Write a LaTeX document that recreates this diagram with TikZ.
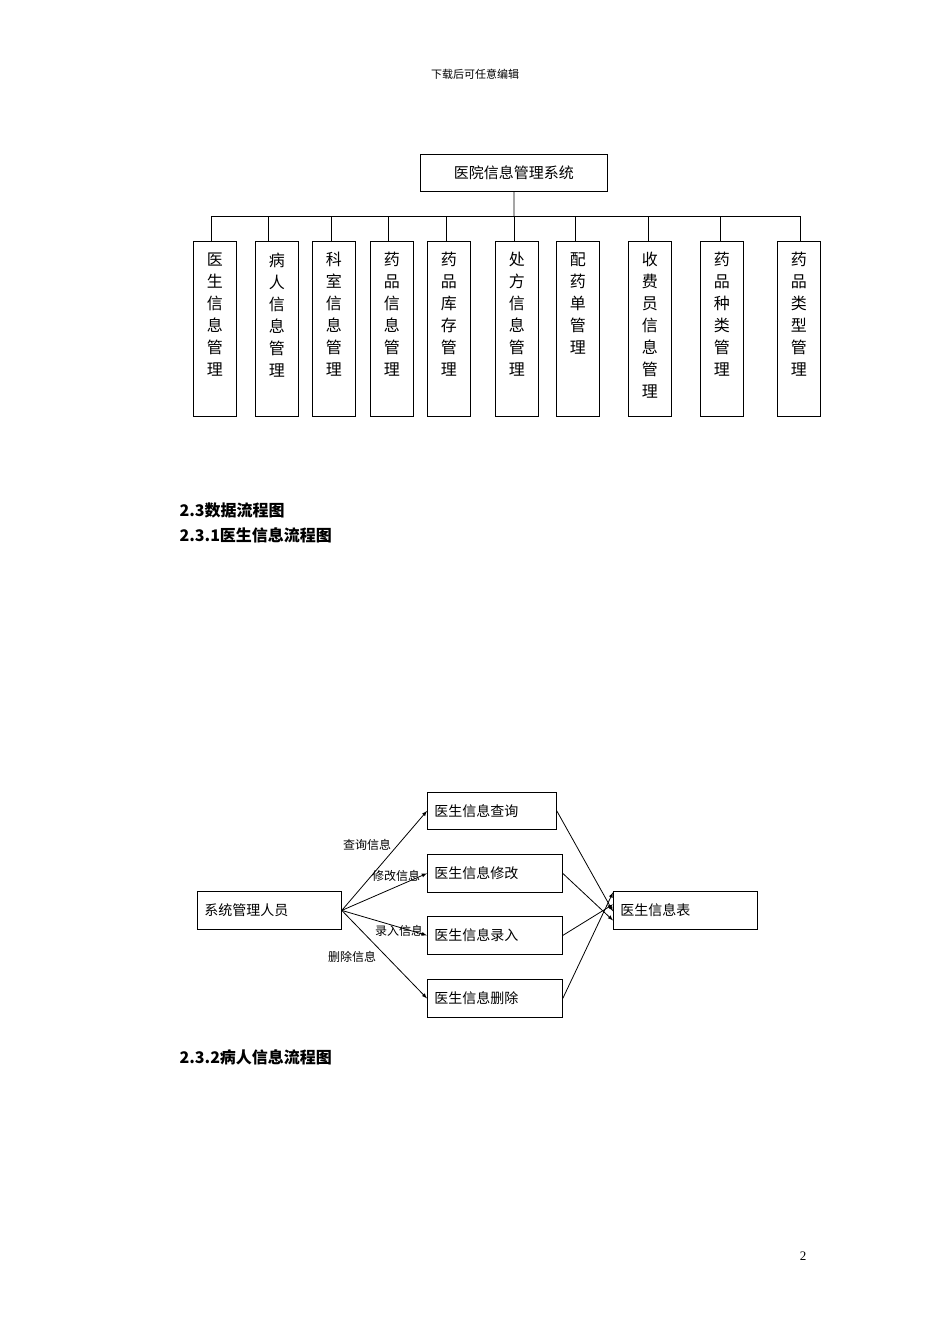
\documentclass[tikz,border=0pt]{standalone}
\usepackage{fontspec}
\setmainfont{Liberation Serif}
\newfontfamily\cjk{Noto Sans CJK SC}
\begin{document}
\begin{tikzpicture}[x=1pt,y=-1pt,
  box/.style={draw,thick,inner sep=0pt,anchor=north west},
  vt/.style={font=\cjk\fontsize{16}{22}\selectfont,align=center,anchor=north},
  ln/.style={thick},
  arr/.style={thick,-latex},
  lab/.style={font=\cjk\fontsize{12}{14}\selectfont,inner sep=1pt}]
\useasboundingbox (0,0) rectangle (950,1344);
\node[font=\cjk\fontsize{11}{13}\selectfont] (hdr) at (475,74) {下载后可任意编辑};
\node[font=\fontsize{13}{15}\selectfont] (pg) at (803,1256) {2};
% top
\node[box,minimum width=187pt,minimum height=37pt] (root) at (420,154) {};
\node[font=\cjk\fontsize{15}{18}\selectfont] (roott) at (root.center) {医院信息管理系统};
\coordinate (bus) at (514,216);
\draw[ln] (root.south) -- (bus);
\draw[ln] (211,216) -- (800,216);
\foreach \n/\x/\tx/\t [count=\i] in {
 a/193/211/医\\生\\信\\息\\管\\理,
 b/255/268/病\\人\\信\\息\\管\\理,
 c/312/331/科\\室\\信\\息\\管\\理,
 d/370/388/药\\品\\信\\息\\管\\理,
 e/427/446/药\\品\\库\\存\\管\\理,
 f/495/514/处\\方\\信\\息\\管\\理,
 g/556/575/配\\药\\单\\管\\理,
 h/628/648/收\\费\\员\\信\\息\\管\\理,
 k/700/720/药\\品\\种\\类\\管\\理,
 m/777/800/药\\品\\类\\型\\管\\理}{
  \node[box,minimum width=43pt,minimum height=175pt] (\n) at (\x,241) {};
  \node[vt] (\n t) at ([yshift=-8pt]\n.north) {\t};
  \coordinate (\n c) at (\tx,216);
  \draw[ln] (\n c) -- (\tx,241);
}
% headings
\node[font=\cjk\bfseries\fontsize{16}{18}\selectfont,anchor=west] (h1) at (176,510) {2.3数据流程图};
\node[font=\cjk\bfseries\fontsize{16}{18}\selectfont,anchor=west] (h2) at (176,535) {2.3.1医生信息流程图};
\node[font=\cjk\bfseries\fontsize{16}{18}\selectfont,anchor=west] (h3) at (176,1057) {2.3.2病人信息流程图};
% flow
\tikzset{fb/.style={draw,thick,minimum height=38pt,inner sep=0pt,anchor=north west,font=\cjk\fontsize{14}{16}\selectfont,text width=#1,align=left}}
\node[fb=130pt,minimum width=144pt,inner xsep=7pt] (sys) at (197,891) {系统管理人员};
\node[fb=115pt,minimum width=129pt,minimum height=37pt,inner xsep=7pt] (q) at (427,792) {医生信息查询};
\node[fb=121pt,minimum width=135pt,inner xsep=7pt] (x) at (427,854) {医生信息修改};
\node[fb=121pt,minimum width=135pt,inner xsep=7pt] (r) at (427,916) {医生信息录入};
\node[fb=121pt,minimum width=135pt,inner xsep=7pt] (s) at (427,979) {医生信息删除};
\node[fb=130pt,minimum width=144pt,inner xsep=7pt] (t) at (613,891) {医生信息表};
\draw[arr] (sys.east) -- (q.west);
\draw[arr] (sys.east) -- (x.west);
\draw[arr] (sys.east) -- (r.west);
\draw[arr] (sys.east) -- (s.west);
\draw[arr] (q.east) -- ([yshift=-1pt]t.west);
\draw[arr] (x.east) -- ([yshift=-10pt]t.west);
\draw[arr] (r.east) -- ([yshift=6pt]t.west);
\draw[arr] (s.east) -- ([yshift=18pt]t.west);
\node[lab] (l1) at (367,845) {查询信息};
\node[lab] (l2) at (396,876) {修改信息};
\node[lab] (l3) at (399,931) {录入信息};
\node[lab] (l4) at (352,957) {删除信息};
\end{tikzpicture}
\end{document}
